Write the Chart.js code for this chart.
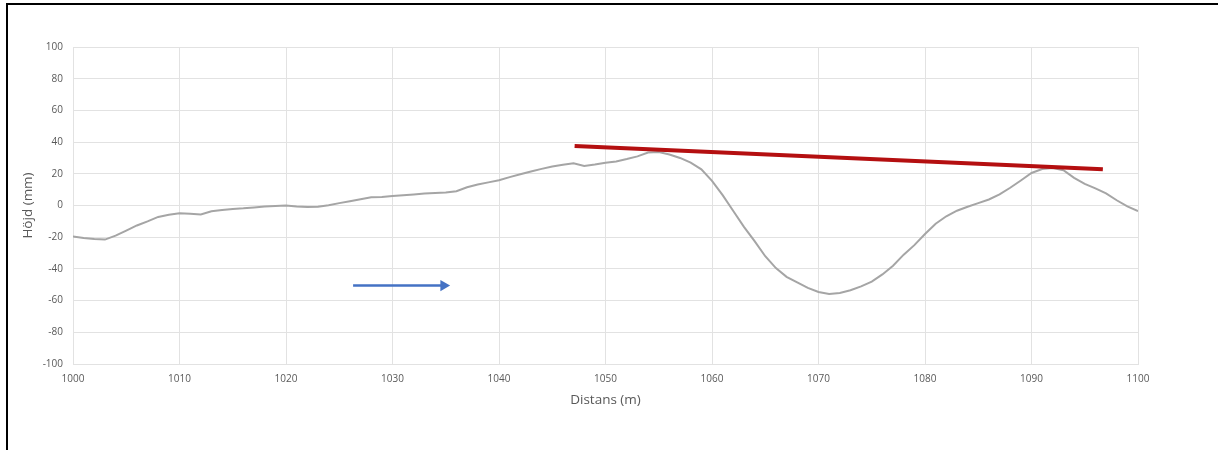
<!DOCTYPE html>
<html>
<head>
<meta charset="utf-8">
<title>Höjdprofil</title>
<script src="https://cdn.jsdelivr.net/npm/chart.js@4.4.0/dist/chart.umd.min.js"></script>
<style>
    html, body { margin: 0; padding: 0; background: #fff; }
    #wrap { position: relative; width: 1218px; height: 450px; overflow: hidden; }
    #profil { position: absolute; left: 0; top: 0; }
    #ram {
        position: absolute; left: 6px; top: 3px; right: -10px; bottom: -10px;
        border-top: 2px solid #000; border-left: 2px solid #000;
        pointer-events: none;
    }
</style>
</head>
<body>
<div id="wrap">
    <canvas id="profil" width="1218" height="450"></canvas>
    <div id="ram"></div>
</div>
<script>
// Mätsträcka (m)
const distans = [
    1000, 1001, 1002, 1003, 1004, 1005, 1006, 1007, 1008, 1009,
    1010, 1011, 1012, 1013, 1014, 1015, 1016, 1017, 1018, 1019,
    1020, 1021, 1022, 1023, 1024, 1025, 1026, 1027, 1028, 1029,
    1030, 1031, 1032, 1033, 1034, 1035, 1036, 1037, 1038, 1039,
    1040, 1041, 1042, 1043, 1044, 1045, 1046, 1047, 1048, 1049,
    1050, 1051, 1052, 1053, 1054, 1055, 1056, 1057, 1058, 1059,
    1060, 1061, 1062, 1063, 1064, 1065, 1066, 1067, 1068, 1069,
    1070, 1071, 1072, 1073, 1074, 1075, 1076, 1077, 1078, 1079,
    1080, 1081, 1082, 1083, 1084, 1085, 1086, 1087, 1088, 1089,
    1090, 1091, 1092, 1093, 1094, 1095, 1096, 1097, 1098, 1099,
    1100
];

// Uppmätt höjd (mm)
const hojd = [
    -19.5, -20.5, -21.2, -21.5, -19.0, -15.8, -12.6, -10.0, -7.2, -5.8,
    -4.9, -5.2, -5.6, -3.6, -2.9, -2.2, -1.8, -1.2, -0.7, -0.3,
    0.0, -0.6, -1.0, -0.8, 0.1, 1.5, 2.7, 4.0, 5.2, 5.4,
    6.0, 6.5, 7.0, 7.5, 7.9, 8.2, 9.0, 11.5, 13.2, 14.6,
    15.9, 17.9, 19.7, 21.5, 23.1, 24.6, 25.7, 26.6, 25.0, 25.8,
    27.0, 27.8, 29.3, 31.0, 33.4, 33.7, 32.2, 30.0, 27.0, 22.8,
    15.5, 6.5, -3.5, -13.5, -22.5, -32.0, -39.5, -45.0, -48.5, -52.0,
    -54.6, -55.8, -55.2, -53.5, -51.0, -48.0, -43.5, -38.0, -31.0, -25.0,
    -18.0, -11.5, -6.8, -3.3, -0.8, 1.5, 3.8, 7.0, 11.2, 15.8,
    20.5, 23.0, 23.6, 22.3, 17.4, 13.6, 10.8, 7.7, 3.3, -0.5,
    -3.6
];

// Linjal över topparna
const linjalX = [1047.1, 1096.7];
const linjalY = [37.6, 22.8];

// Färdriktning
const pilX = [1026.3, 1034.8];
const pilY = [-50.5, -50.5];

const xTicks = { min: 1000, max: 1100, steg: 10 };
const yTicks = { min: -100, max: 100, steg: 20 };

const toPoints = (xs, ys) => xs.map((x, i) => ({ x: x, y: ys[i] }));

const textColor = '#595959';
const gridColor = '#e2e2e2';
const tickFont = { family: 'Open Sans', size: 10 };
const titleFont = { family: 'Open Sans', size: 13.5 };

new Chart(document.getElementById('profil'), {
    type: 'line',
    data: {
        datasets: [
            {
                label: 'Höjd',
                data: toPoints(distans, hojd),
                borderColor: '#a5a5a5',
                borderWidth: 2,
                pointRadius: 0,
                tension: 0,
                order: 3
            },
            {
                label: 'Linjal',
                data: toPoints(linjalX, linjalY),
                borderColor: '#b40f10',
                borderWidth: 4,
                borderCapStyle: 'butt',
                pointRadius: 0,
                order: 1
            },
            {
                label: 'Riktning',
                data: toPoints(pilX, pilY),
                borderColor: '#4472c4',
                backgroundColor: '#4472c4',
                borderWidth: 2.5,
                pointRadius: [0, 6.5],
                pointStyle: 'triangle',
                pointRotation: 90,
                pointBorderWidth: 0,
                order: 2
            }
        ]
    },
    options: {
        responsive: false,
        animation: false,
        events: [],
        layout: { padding: { left: 16, top: 47, right: 80, bottom: 38 } },
        plugins: {
            legend: { display: false },
            tooltip: { enabled: false }
        },
        scales: {
            x: {
                type: 'linear',
                min: xTicks.min,
                max: xTicks.max,
                afterFit: (scale) => { scale.height = 48; },
                ticks: {
                    stepSize: xTicks.steg,
                    padding: 9,
                    maxRotation: 0,
                    color: textColor,
                    font: tickFont,
                    callback: (v) => String(v)
                },
                grid: { color: gridColor, drawTicks: false },
                border: { color: gridColor },
                title: {
                    display: true,
                    text: 'Distans (m)',
                    color: textColor,
                    font: titleFont
                }
            },
            y: {
                min: yTicks.min,
                max: yTicks.max,
                afterFit: (scale) => { scale.width = 57; },
                ticks: {
                    stepSize: yTicks.steg,
                    padding: 10,
                    color: textColor,
                    font: tickFont,
                    callback: (v) => String(v)
                },
                grid: { color: gridColor, drawTicks: false },
                border: { color: gridColor },
                title: {
                    display: true,
                    text: 'Höjd (mm)',
                    color: textColor,
                    font: titleFont
                }
            }
        }
    }
});
</script>
</body>
</html>
